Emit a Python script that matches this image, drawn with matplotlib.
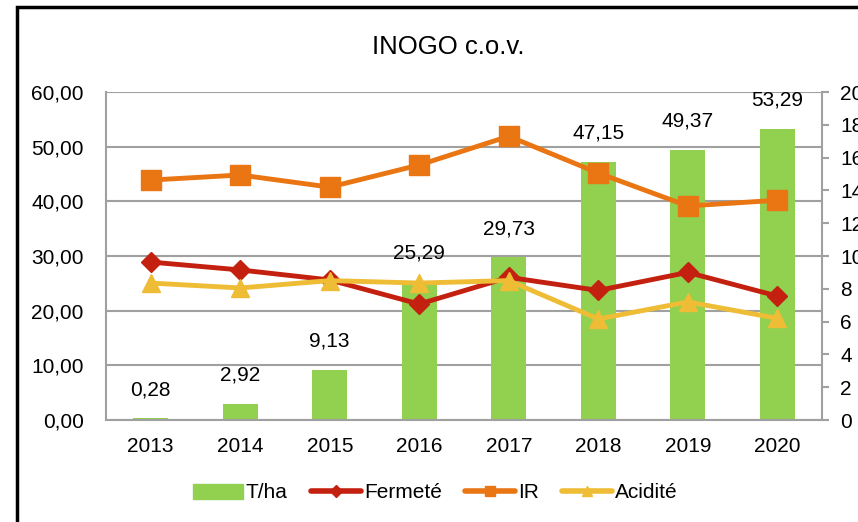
import numpy as np
import matplotlib.pyplot as plt
from matplotlib.patches import Rectangle
from matplotlib.lines import Line2D
from matplotlib.patches import Patch

plt.rcParams['font.family'] = ['Liberation Sans', 'DejaVu Sans']

# =======================
# Datos
# =======================
annees = ["2013", "2014", "2015", "2016", "2017", "2018", "2019", "2020"]
t_ha = [0.28, 2.92, 9.13, 25.29, 29.73, 47.15, 49.37, 53.29]
fermete = [9.63, 9.15, 8.54, 7.07, 8.70, 7.90, 9.00, 7.56]
ir = [14.63, 14.94, 14.20, 15.55, 17.30, 15.06, 13.05, 13.40]
acidite = [8.35, 8.05, 8.50, 8.35, 8.50, 6.16, 7.20, 6.20]

vert = "#92D050"
rouge = "#C4200F"
orange = "#E97513"
jaune = "#EEBC35"
gris = "#A0A0A0"

fig = plt.figure(figsize=(8.58, 5.22), dpi=100)
ax = fig.add_axes([106/858, 1 - 420/522, (822-106)/858, (420-92)/522])
ax2 = ax.twinx()

x = np.arange(len(annees))

# barres T/ha
ax.bar(x, t_ha, width=0.39, color=vert, zorder=2)
for xi, v in zip(x, t_ha):
    ax.annotate(f"{v:.2f}".replace(".", ","), (xi, v), xytext=(0, 14),
                textcoords="offset points", ha="center", va="bottom", fontsize=15)

ax.set_xlim(-0.5, len(annees) - 0.5)
ax.set_ylim(0, 60)
ax.set_yticks(range(0, 61, 10))
ax.set_yticklabels([f"{v:.2f}".replace(".", ",") for v in range(0, 61, 10)])
ax.set_xticks(x)
ax.set_xticklabels(annees)
ax.yaxis.grid(True, color=gris, linewidth=1.5, zorder=0)
ax.set_axisbelow(True)
ax.tick_params(axis="both", labelsize=15, length=0)
ax.tick_params(axis="y", pad=16)
ax.tick_params(axis="x", pad=12)

# lignes (axe droit)
ax2.plot(x, fermete, color=rouge, linewidth=3.5, marker="D", markersize=10, zorder=3)
ax2.plot(x, ir, color=orange, linewidth=3.5, marker="s", markersize=14, zorder=3)
ax2.plot(x, acidite, color=jaune, linewidth=3.5, marker="^", markersize=13, zorder=3)
ax2.set_ylim(0, 20)
ax2.set_yticks(range(0, 21, 2))
ax2.tick_params(axis="y", labelsize=15, length=5, color=gris, width=1.5, pad=8)

for a in (ax, ax2):
    for s in a.spines.values():
        s.set_visible(False)
ax.spines["left"].set_visible(True)
ax.spines["bottom"].set_visible(True)
ax2.spines["right"].set_visible(True)
for s in (ax.spines["left"], ax.spines["bottom"], ax2.spines["right"]):
    s.set_color(gris)
    s.set_linewidth(1.5)

fig.text(448/858, 1 - 47/522, "INOGO c.o.v.", ha="center", va="center", fontsize=18.5)

handles = [
    Patch(color=vert),
    Line2D([], [], color=rouge, linewidth=4, marker="D", markersize=6, solid_capstyle="round"),
    Line2D([], [], color=orange, linewidth=4, marker="s", markersize=7, solid_capstyle="round"),
    Line2D([], [], color=jaune, linewidth=4, marker="^", markersize=7, solid_capstyle="round"),
]
fig.legend(handles, ["T/ha", "Fermeté", "IR", "Acidité"], loc="center",
           bbox_to_anchor=(435/858, 1 - 493/522), ncol=4, frameon=False,
           fontsize=15, handlelength=2.4, handletextpad=0.15, columnspacing=1.1)

# cadre extérieur
fig.patches.append(Rectangle((17/858, -0.1), 1.2, 1 - 7/522 + 0.1, transform=fig.transFigure,
                             fill=False, edgecolor="black", linewidth=2.5))

fig.savefig("out.png", dpi=100)
